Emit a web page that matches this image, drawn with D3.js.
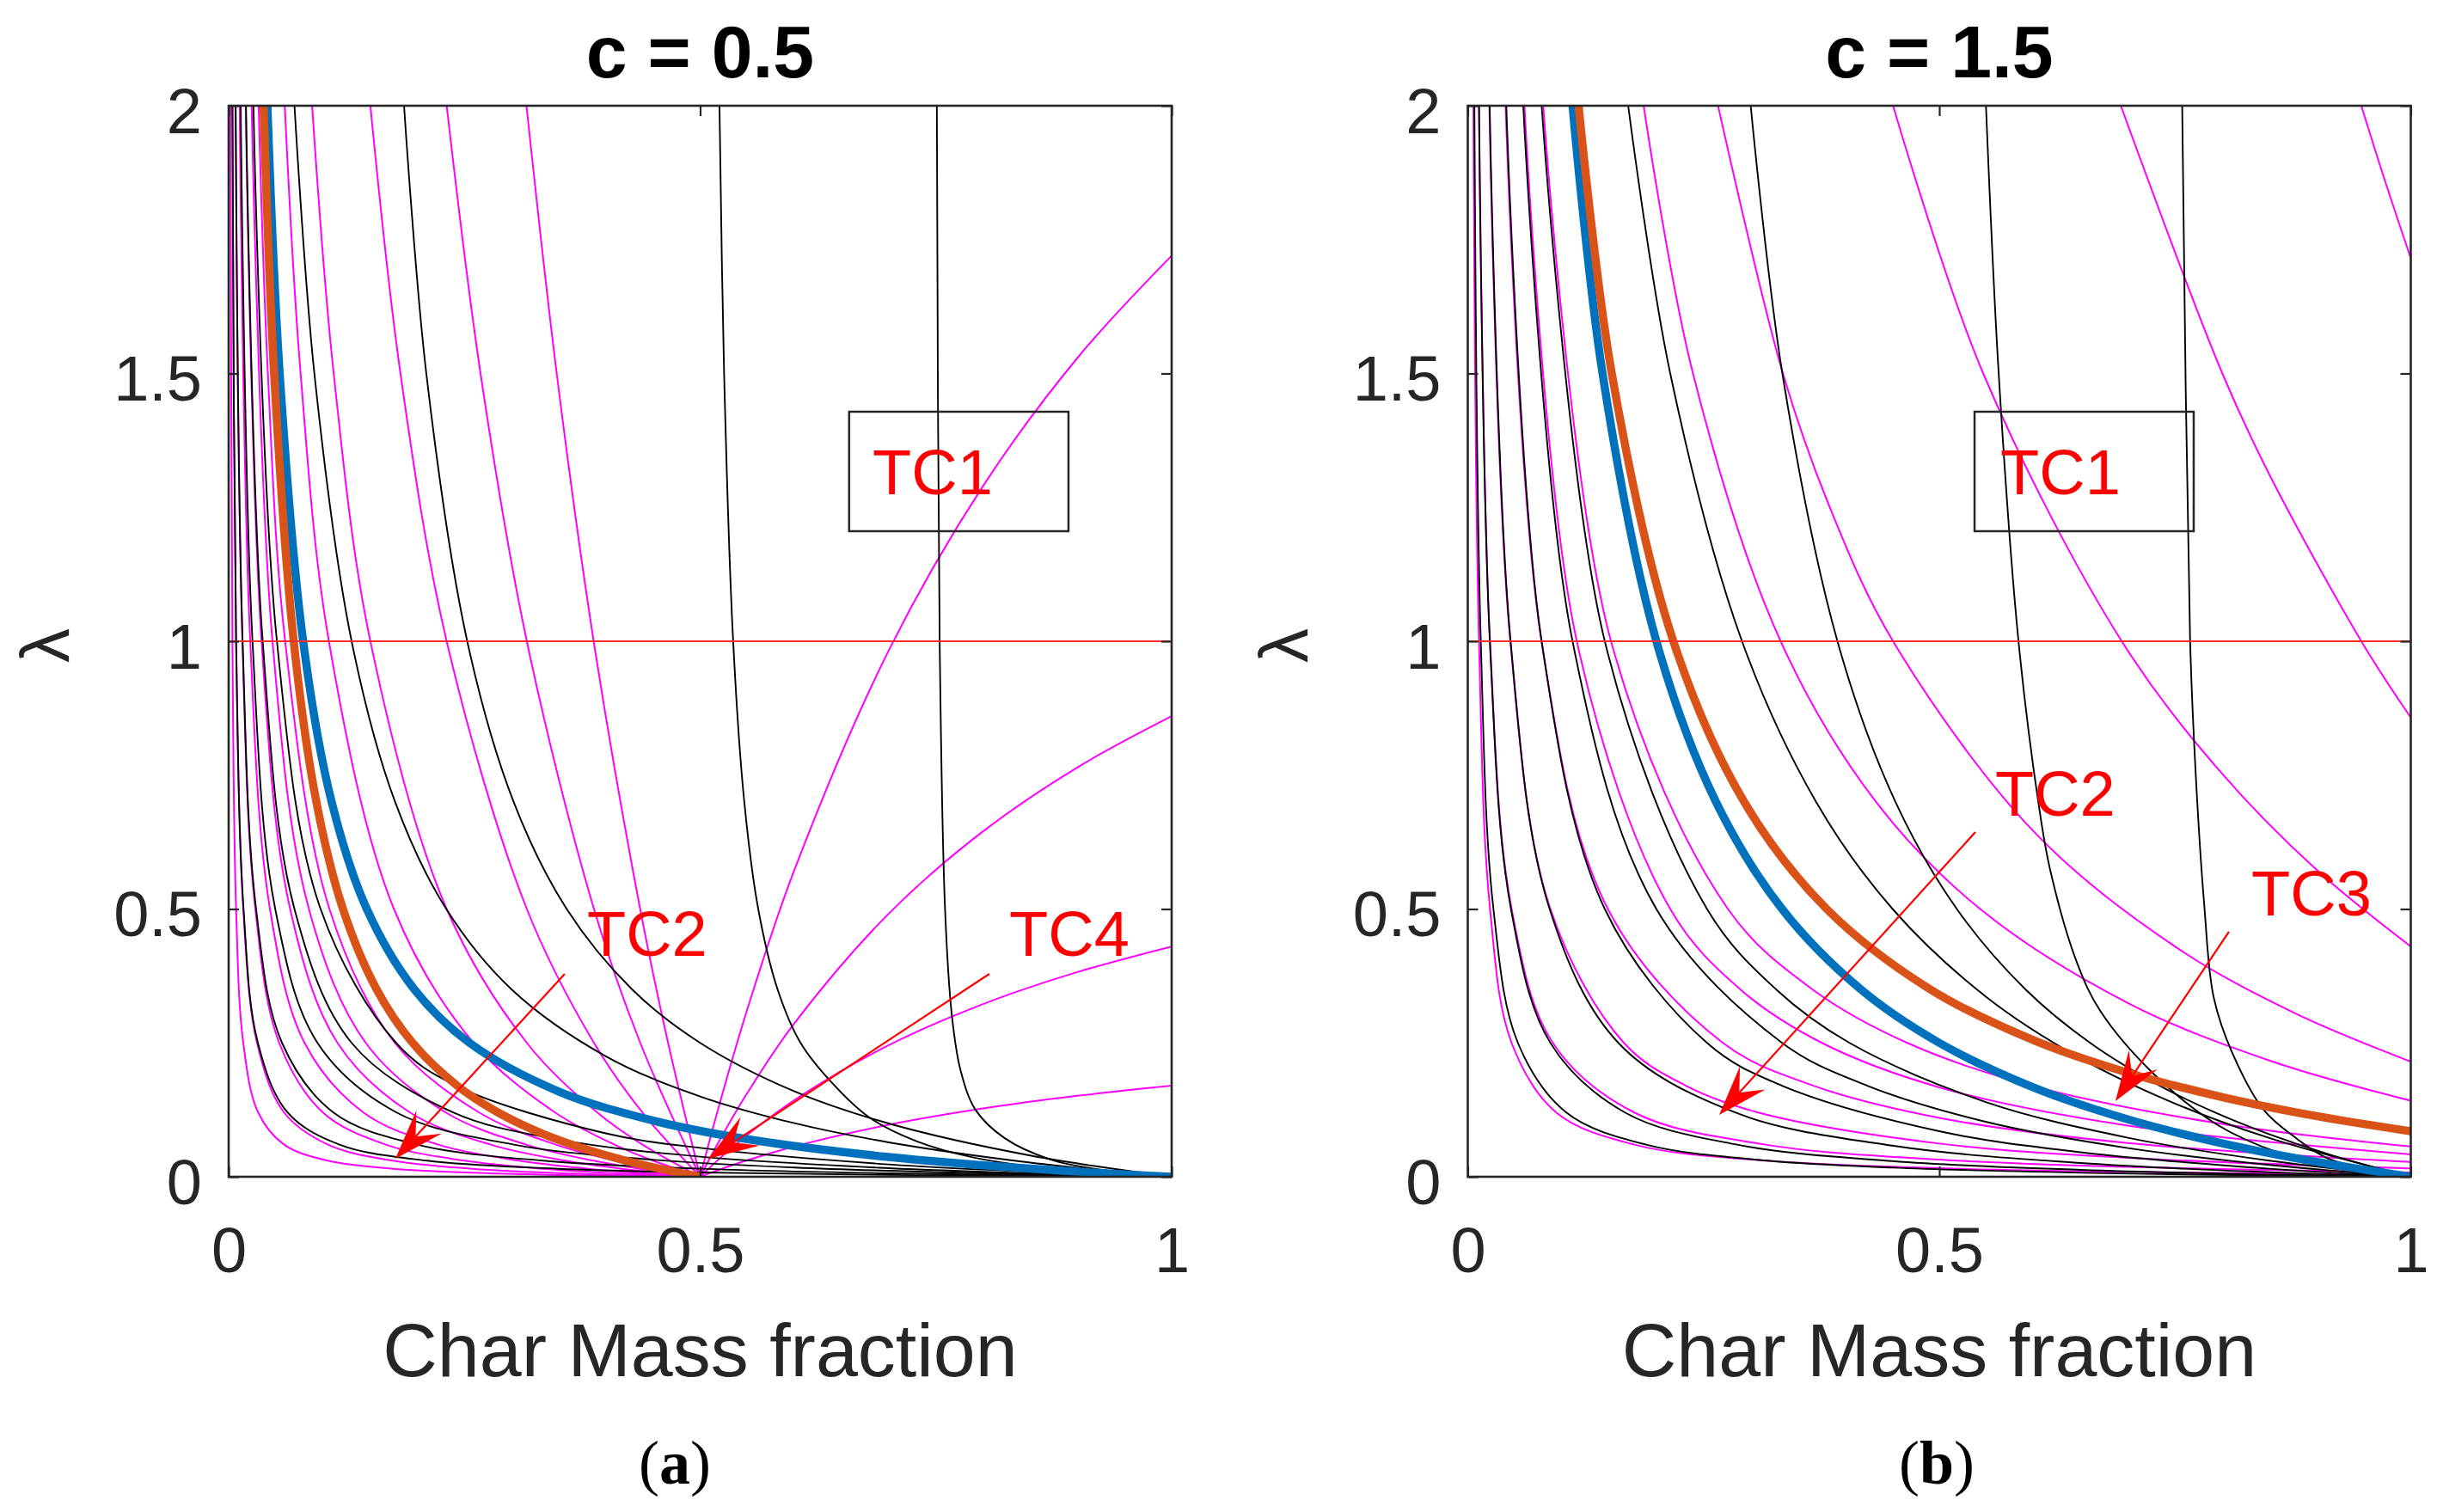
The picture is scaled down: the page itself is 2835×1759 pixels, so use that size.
<!DOCTYPE html>
<html lang="en">
<head>
<meta charset="UTF-8">
<title>Char Mass fraction vs lambda</title>
<script src="https://d3js.org/d3.v7.min.js"></script>
<style>
  body { margin: 0; background: #fff; }
  svg { display: block; }
</style>
</head>
<body>
<svg id="chart" width="2835" height="1759"></svg>
<script>
// axis ticks
const xTicks = [0, 0.5, 1];
const yTicks = [0, 0.5, 1, 1.5, 2];

// ---- panel (a), c = 0.5 : points are [char mass fraction, lambda] ----
const leftMagenta = [
  [[0.002,2],[0.004,1],[0.0079,0.5],[0.0155,0.25],[0.0313,0.12],[0.0588,0.06],[0.1053,0.03],[0.174,0.015],[0.286,0.006],[0.4,0.002],[0.5,0]],
  [[0.004,2],[0.0079,1],[0.0155,0.5],[0.0301,0.25],[0.0588,0.12],[0.1053,0.06],[0.174,0.03],[0.258,0.015],[0.364,0.006],[0.5,0]],
  [[0.0074,2],[0.0146,1],[0.0283,0.5],[0.0536,0.25],[0.1,0.12],[0.1667,0.06],[0.25,0.03],[0.333,0.015],[0.417,0.006],[0.5,0]],
  [[0.0117,2],[0.0229,1],[0.0438,0.5],[0.0805,0.25],[0.1429,0.12],[0.2222,0.06],[0.3077,0.03],[0.381,0.015],[0.444,0.006],[0.5,0]],
  [[0.0181,2],[0.0349,1],[0.0652,0.5],[0.1154,0.25],[0.1923,0.12],[0.2778,0.06],[0.357,0.03],[0.4167,0.015],[0.5,0]],
  [[0.0244,2],[0.0465,1],[0.0851,0.5],[0.1454,0.25],[0.2303,0.12],[0.3154,0.06],[0.3868,0.03],[0.4362,0.015],[0.5,0]],
  [[0.0318,2],[0.0416,1.5],[0.0599,1],[0.1069,0.5],[0.1762,0.25],[0.2656,0.12],[0.3469,0.06],[0.4096,0.03],[0.5,0]],
  [[0.0595,2],[0.0763,1.5],[0.1063,1],[0.1753,0.5],[0.2596,0.25],[0.3462,0.12],[0.4091,0.06],[0.45,0.03],[0.5,0]],
  [[0.0885,2],[0.1114,1.5],[0.1503,1],[0.2312,0.5],[0.3162,0.25],[0.3909,0.12],[0.4388,0.06],[0.5,0]],
  [[0.1503,2],[0.1822,1.5],[0.2312,1],[0.3162,0.5],[0.3874,0.25],[0.4388,0.12],[0.5,0]],
  [[0.2312,2],[0.2671,1.5],[0.3162,1],[0.3874,0.5],[0.4365,0.25],[0.5,0]],
  [[0.3158,2],[0.3479,1.5],[0.3871,1],[0.4364,0.5],[0.466,0.25],[0.5,0]],
  // rising branches right of 0.5
  [[0.5,0],[0.52,0.1323],[0.55,0.3127],[0.6,0.5733],[0.7,0.9829],[0.8,1.29],[0.9,1.5289],[1,1.72]],
  [[0.5,0],[0.52,0.0662],[0.55,0.1564],[0.6,0.2867],[0.7,0.4914],[0.8,0.645],[0.9,0.7644],[1,0.86]],
  [[0.5,0],[0.52,0.0331],[0.55,0.0782],[0.6,0.1433],[0.7,0.2457],[0.8,0.3225],[0.9,0.3822],[1,0.43]],
  [[0.5,0],[0.52,0.0131],[0.55,0.0309],[0.6,0.0567],[0.7,0.0971],[0.8,0.1275],[0.9,0.1511],[1,0.17]]
];

const leftBlack = [
  [[0.004,2],[0.0079,1],[0.0158,0.5],[0.031,0.25],[0.0625,0.12],[0.1176,0.06],[0.2105,0.03],[0.35,0.0149],[0.5,0.008],[0.7,0.0034],[1,0]],
  [[0.0074,2],[0.0148,1],[0.0291,0.5],[0.0566,0.25],[0.1111,0.12],[0.2,0.06],[0.3333,0.03],[0.5,0.015],[0.7,0.0064],[1,0]],
  [[0.0128,2],[0.0253,1],[0.0494,0.5],[0.0942,0.25],[0.1781,0.12],[0.3023,0.06],[0.45,0.0318],[0.6,0.0173],[0.8,0.0065],[1,0]],
  [[0.0184,2],[0.0361,1],[0.0698,0.5],[0.1304,0.25],[0.2381,0.12],[0.35,0.0696],[0.5,0.0375],[0.7,0.0161],[0.85,0.0066],[1,0]],
  [[0.0263,2],[0.0512,1],[0.0975,0.5],[0.1776,0.25],[0.2411,0.17],[0.4,0.081],[0.5,0.054],[0.7,0.0231],[0.85,0.0095],[1,0]],
  [[0.0698,2],[0.0909,1.5],[0.1304,1],[0.1765,0.7],[0.2308,0.5],[0.3,0.35],[0.4,0.225],[0.5,0.15],[0.6,0.1],[0.7,0.0643],[0.85,0.0265],[1,0]],
  [[0.186,2],[0.2096,1.5],[0.253,1],[0.3022,0.7],[0.3585,0.5],[0.4278,0.35],[0.5,0.25],[0.6,0.1594],[0.7,0.0995],[0.85,0.0397],[1,0]],
  [[0.5205,2],[0.5254,1.5],[0.535,1],[0.5468,0.7],[0.5616,0.5],[0.5821,0.35],[0.6065,0.25],[0.64,0.175],[0.68,0.11],[0.73,0.066],[0.79,0.036],[0.88,0.014],[1,0]],
  [[0.751,2],[0.754,1],[0.7597,0.5],[0.767,0.3],[0.776,0.2],[0.792,0.125],[0.823,0.072],[0.872,0.032],[0.93,0.012],[1,0]]
];

const leftBlue = [[0.0411,2],[0.0541,1.5],[0.079,1],[0.1092,0.7],[0.1465,0.5],[0.1969,0.35],[0.2555,0.25],[0.35,0.1593],[0.45,0.1049],[0.55,0.0702],[0.7,0.0368],[0.85,0.0151],[1,0]];
const leftOrange = [[0.037,2],[0.0482,1.5],[0.069,1],[0.093,0.7],[0.1212,0.5],[0.1569,0.35],[0.1951,0.25],[0.2424,0.17],[0.2857,0.12],[0.3333,0.08],[0.381,0.05],[0.4211,0.03],[0.4571,0.015],[0.5,0]];

// ---- panel (b), c = 1.5 ----
const rightMagenta = [
  [[0.006,2],[0.0119,1],[0.0236,0.5],[0.0465,0.25],[0.0938,0.12],[0.1765,0.06],[0.3158,0.03],[0.5,0.016],[0.7,0.0091],[1,0.004]],
  [[0.0119,2],[0.0236,1],[0.0465,0.5],[0.0902,0.25],[0.1765,0.12],[0.3158,0.06],[0.5,0.032],[0.7,0.0183],[1,0.008]],
  [[0.0229,2],[0.0451,1],[0.0876,0.5],[0.1655,0.25],[0.2313,0.17],[0.3079,0.12],[0.5,0.062],[0.7,0.0354],[1,0.0155]],
  [[0.0401,2],[0.0782,1],[0.1486,0.5],[0.2705,0.25],[0.3667,0.17],[0.5,0.11],[0.7,0.0629],[1,0.0275]],
  [[0.0601,2],[0.1156,1],[0.2147,0.5],[0.2889,0.35],[0.3756,0.25],[0.5,0.167],[0.7,0.0954],[1,0.0418]],
  [[0.08,2],[0.1519,1],[0.2759,0.5],[0.3654,0.35],[0.4661,0.25],[0.6,0.169],[0.8,0.0986],[1,0.0564]],
  [[0.1865,2],[0.2388,1.5],[0.3318,1],[0.4329,0.7],[0.5434,0.5],[0.7,0.3246],[0.85,0.2172],[1,0.142]],
  [[0.2654,2],[0.3342,1.5],[0.3839,1.25],[0.451,1],[0.6,0.645],[0.75,0.43],[0.875,0.3071],[1,0.215]],
  [[0.451,2],[0.5466,1.5],[0.6935,1],[0.8,0.7525],[0.9,0.5733],[1,0.43]],
  [[0.6925,2],[0.8002,1.5],[0.85,1.3115],[0.95,0.9929],[1,0.8575]],
  [[0.9475,2],[0.97,1.874],[1,1.715]]
];

const rightBlack = [
  [[0.007,2],[0.0138,1],[0.0272,0.5],[0.0531,0.25],[0.1045,0.12],[0.1892,0.06],[0.3182,0.03],[0.45,0.0171],[0.65,0.0075],[0.85,0.0025],[1,0]],
  [[0.0119,2],[0.0234,1],[0.0458,0.5],[0.0876,0.25],[0.1667,0.12],[0.2857,0.06],[0.45,0.0293],[0.65,0.0129],[0.85,0.0042],[1,0]],
  [[0.0232,2],[0.0454,1],[0.0868,0.5],[0.1597,0.25],[0.2836,0.12],[0.45,0.0581],[0.65,0.0256],[0.85,0.0084],[1,0]],
  [[0.0408,2],[0.0783,1],[0.1453,0.5],[0.2537,0.25],[0.3333,0.17],[0.5,0.085],[0.65,0.0458],[0.85,0.015],[1,0]],
  [[0.0588,2],[0.1111,1],[0.2,0.5],[0.3333,0.25],[0.4237,0.17],[0.55,0.1023],[0.7,0.0536],[0.85,0.0221],[1,0]],
  [[0.0783,2],[0.1453,1],[0.2537,0.5],[0.3269,0.35],[0.4048,0.25],[0.55,0.1391],[0.7,0.0729],[0.85,0.03],[1,0]],
  [[0.1701,2],[0.2147,1.5],[0.2908,1],[0.3694,0.7],[0.4505,0.5],[0.55,0.3355],[0.65,0.2208],[0.75,0.1367],[0.85,0.0724],[1,0]],
  [[0.3,2],[0.3336,1.5],[0.392,1],[0.4535,0.7],[0.5186,0.5],[0.5914,0.35],[0.66,0.25],[0.7338,0.17],[0.7923,0.12],[0.8489,0.08],[0.9168,0.04],[1,0]],
  [[0.5495,2],[0.563,1.5],[0.584,1],[0.605,0.7],[0.6176,0.573],[0.646,0.4],[0.671,0.309],[0.728,0.191],[0.794,0.098],[0.86,0.045],[0.93,0.015],[1,0]],
  [[0.7576,2],[0.766,1],[0.772,0.75],[0.781,0.507],[0.791,0.335],[0.811,0.23],[0.844,0.125],[0.88,0.07],[0.911,0.035],[0.96,0.012],[1,0]]
];

const rightBlue = [[0.1111,2],[0.1429,1.5],[0.2,1],[0.2632,0.7],[0.3333,0.5],[0.4167,0.35],[0.5,0.25],[0.6,0.1667],[0.7,0.1071],[0.8,0.0625],[0.9,0.0278],[1,0]];
const rightOrange = [[0.1175,2],[0.1527,1.5],[0.218,1],[0.2931,0.7],[0.3806,0.5],[0.4904,0.35],[0.6,0.255],[0.7,0.1943],[0.8,0.1488],[0.9,0.1133],[1,0.085]];

const plotW = 1097, plotTop = 123, plotBottom = 1369;
const font = "'Liberation Sans', Arial, Helvetica, sans-serif";
const axisColor = "#262626";

const panels = [
  {
    tag: "a", title: "c = 0.5", left: 266, tagX: 785,
    magenta: leftMagenta, black: leftBlack, blue: leftBlue, orange: leftOrange,
    box: [0.658, 0.8906, 1.4286, 1.2055], boxText: [0.6828, 1.2745],
    notes: [
      { text: "TC2", at: [0.3801, 0.4125], from: [0.3564, 0.3788], to: [0.1768, 0.0337] },
      { text: "TC4", at: [0.8277, 0.4125], from: [0.8067, 0.3788], to: [0.5087, 0.0337] }
    ]
  },
  {
    tag: "b", title: "c = 1.5", left: 1707.5, tagX: 2253,
    magenta: rightMagenta, black: rightBlack, blue: rightBlue, orange: rightOrange,
    box: [0.5374, 0.7698, 1.4286, 1.2055], boxText: [0.5648, 1.2745],
    notes: [
      { text: "TC2", at: [0.5592, 0.6742], from: [0.5383, 0.6437], to: [0.2666, 0.1156] },
      { text: "TC3", at: [0.8309, 0.488], from: [0.8072, 0.4575], to: [0.6868, 0.1413] }
    ]
  }
];

const svg = d3.select("#chart");
svg.append("rect").attr("width", 2835).attr("height", 1759).attr("fill", "#fff");

panels.forEach(p => {
  const x = d3.scaleLinear().domain([0, 1]).range([p.left, p.left + plotW]);
  const y = d3.scaleLinear().domain([0, 2]).range([plotBottom, plotTop]);
  const g = svg.append("g");

  const clipId = "clip-" + p.tag;
  svg.append("clipPath").attr("id", clipId)
    .append("rect")
    .attr("x", p.left).attr("y", plotTop)
    .attr("width", plotW).attr("height", plotBottom - plotTop);

  const line = d3.line()
    .x(d => x(d[0]))
    .y(d => y(d[1]))
    .curve(d3.curveCatmullRom.alpha(0.5));

  const data = g.append("g").attr("clip-path", `url(#${clipId})`);

  data.selectAll(".mag")
    .data(p.magenta)
    .enter()
    .append("path")
    .attr("d", line)
    .attr("fill", "none")
    .attr("stroke", "#ff00ff")
    .attr("stroke-width", 2);

  data.selectAll(".blk")
    .data(p.black)
    .enter()
    .append("path")
    .attr("d", line)
    .attr("fill", "none")
    .attr("stroke", "#000")
    .attr("stroke-width", 1.9);

  data.append("path").attr("d", line(p.blue))
    .attr("fill", "none").attr("stroke", "#0072BD").attr("stroke-width", 9.5);
  data.append("path").attr("d", line(p.orange))
    .attr("fill", "none").attr("stroke", "#D95319").attr("stroke-width", 9.5);

  // lambda = 1
  data.append("line")
    .attr("x1", x(0)).attr("x2", x(1))
    .attr("y1", y(1)).attr("y2", y(1))
    .attr("stroke", "#ff2a2a").attr("stroke-width", 2.2);

  // axes, ticks pointing inward on all four sides
  const styleAxis = sel => {
    sel.attr("color", axisColor).attr("font-size", 74).attr("font-family", font);
    sel.select(".domain").remove();
    sel.selectAll("line").attr("stroke-width", 2.2);
    sel.selectAll("text").attr("fill", axisColor);
  };

  g.append("g")
    .attr("transform", `translate(0,${plotBottom})`)
    .call(d3.axisBottom(x).tickValues(xTicks).tickSize(-12).tickSizeOuter(0).tickPadding(58).tickFormat(d3.format("")))
    .call(styleAxis);

  g.append("g")
    .attr("transform", `translate(${p.left},0)`)
    .call(d3.axisLeft(y).tickValues(yTicks).tickSize(-12).tickSizeOuter(0).tickPadding(31).tickFormat(d3.format("")))
    .call(styleAxis)
    .selectAll("text").attr("dy", "0.42em");

  g.append("g")
    .attr("transform", `translate(0,${plotTop})`)
    .call(d3.axisTop(x).tickValues(xTicks).tickSize(-12).tickSizeOuter(0).tickFormat(() => ""))
    .call(styleAxis);

  g.append("g")
    .attr("transform", `translate(${p.left + plotW},0)`)
    .call(d3.axisRight(y).tickValues(yTicks).tickSize(-12).tickSizeOuter(0).tickFormat(() => ""))
    .call(styleAxis);

  g.append("rect")
    .attr("x", p.left).attr("y", plotTop)
    .attr("width", plotW).attr("height", plotBottom - plotTop)
    .attr("fill", "none").attr("stroke", axisColor).attr("stroke-width", 2.6);

  // title and labels
  g.append("text")
    .attr("x", p.left + plotW / 2).attr("y", 90)
    .attr("text-anchor", "middle")
    .attr("font-family", font).attr("font-weight", "bold").attr("font-size", 86)
    .attr("fill", "#000")
    .text(p.title);

  g.append("text")
    .attr("x", p.left + plotW / 2).attr("y", 1601)
    .attr("text-anchor", "middle")
    .attr("font-family", font).attr("font-size", 88)
    .attr("fill", axisColor)
    .text("Char Mass fraction");

  g.append("text")
    .attr("transform", `translate(${p.left - 214},751) rotate(-90)`)
    .attr("text-anchor", "middle")
    .attr("dominant-baseline", "central")
    .attr("font-family", font).attr("font-size", 80)
    .attr("fill", axisColor)
    .text("λ");

  const tag = g.append("text")
    .attr("x", p.tagX).attr("y", 1726)
    .attr("text-anchor", "middle")
    .attr("font-family", "'Liberation Serif', 'Times New Roman', serif").attr("font-size", 72)
    .attr("fill", "#000");
  tag.append("tspan").text("(");
  tag.append("tspan").attr("font-weight", "bold").text(p.tag);
  tag.append("tspan").text(")");

  // TC1 text box
  g.append("rect")
    .attr("x", x(p.box[0])).attr("y", y(p.box[2]))
    .attr("width", x(p.box[1]) - x(p.box[0]))
    .attr("height", y(p.box[3]) - y(p.box[2]))
    .attr("fill", "none").attr("stroke", axisColor).attr("stroke-width", 2.5);
  g.append("text")
    .attr("x", x(p.boxText[0])).attr("y", y(p.boxText[1]))
    .attr("font-family", font).attr("font-size", 74).attr("fill", "#ff0000")
    .text("TC1");

  // arrows with labels
  p.notes.forEach(n => {
    const x1 = x(n.from[0]), y1 = y(n.from[1]);
    const x2 = x(n.to[0]), y2 = y(n.to[1]);
    const len = Math.hypot(x2 - x1, y2 - y1);
    const ux = (x2 - x1) / len, uy = (y2 - y1) / len;
    const L = 58, W = 20;
    g.append("line")
      .attr("x1", x1).attr("y1", y1)
      .attr("x2", x2 - ux * L * 0.6).attr("y2", y2 - uy * L * 0.6)
      .attr("stroke", "#ff0000").attr("stroke-width", 2.2);
    const head = [
      [x2, y2],
      [x2 - ux * L - uy * W, y2 - uy * L + ux * W],
      [x2 - ux * L * 0.6, y2 - uy * L * 0.6],
      [x2 - ux * L + uy * W, y2 - uy * L - ux * W]
    ];
    g.append("path")
      .attr("d", "M" + head.map(q => q.join(",")).join("L") + "Z")
      .attr("fill", "#ff0000");
    g.append("text")
      .attr("x", x(n.at[0])).attr("y", y(n.at[1]))
      .attr("font-family", font).attr("font-size", 74).attr("fill", "#ff0000")
      .text(n.text);
  });
});
</script>
</body>
</html>
